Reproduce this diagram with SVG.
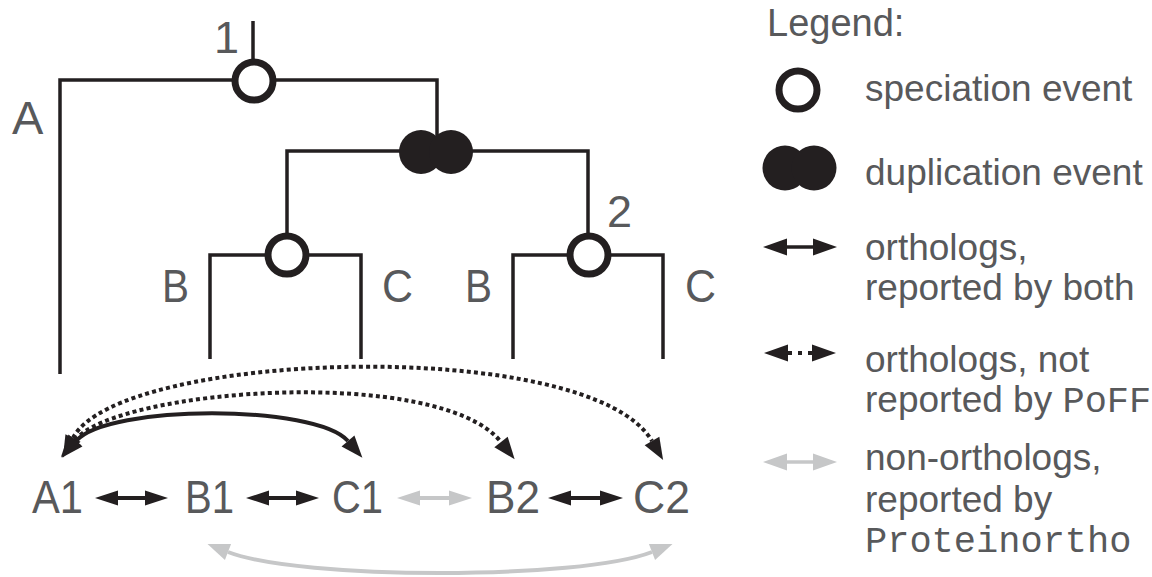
<svg xmlns="http://www.w3.org/2000/svg" width="1152" height="577" viewBox="0 0 1152 577">
  <style>
    .tree { fill: none; stroke: #231f20; stroke-width: 3.5; stroke-linecap: butt; }
    .spec { fill: #ffffff; stroke: #231f20; stroke-width: 7; }
    .dup { fill: #231f20; }
    .lbl { font-family: "Liberation Sans", Arial, sans-serif; fill: #58595b; }
    .big { font-size: 46px; }
    .leg { font-size: 37px; }
    .mono { font-family: "Liberation Mono", "Courier New", monospace; font-size: 37px; fill: #58595b; }
    .solid { fill: none; stroke: #231f20; stroke-width: 4; }
    .dotted { fill: none; stroke: #231f20; stroke-width: 4; stroke-dasharray: 4 3.2; }
    .grey { fill: none; stroke: #c6c7c8; stroke-width: 4; }
  </style>
  <defs>
    <marker id="arcHead" markerUnits="userSpaceOnUse" markerWidth="22" markerHeight="17" refX="0" refY="8.5" orient="auto-start-reverse" overflow="visible">
      <path d="M0,0 L22,8.5 L0,17 z" fill="#231f20"/>
    </marker>
    <marker id="greyArcHead" markerUnits="userSpaceOnUse" markerWidth="22" markerHeight="17" refX="0" refY="8.5" orient="auto-start-reverse" overflow="visible">
      <path d="M0,0 L22,8.5 L0,17 z" fill="#c6c7c8"/>
    </marker>
    <marker id="head" markerUnits="userSpaceOnUse" markerWidth="23" markerHeight="15" refX="0" refY="7.5" orient="auto-start-reverse" overflow="visible">
      <path d="M0,0 L23,7.5 L0,15 z" fill="#231f20"/>
    </marker>
    <marker id="greyHead" markerUnits="userSpaceOnUse" markerWidth="23" markerHeight="15" refX="0" refY="7.5" orient="auto-start-reverse" overflow="visible">
      <path d="M0,0 L23,7.5 L0,15 z" fill="#c6c7c8"/>
    </marker>
    <marker id="legHead" markerUnits="userSpaceOnUse" markerWidth="24" markerHeight="17" refX="0" refY="8.5" orient="auto-start-reverse" overflow="visible">
      <path d="M0,0 L24,8.5 L0,17 z" fill="#231f20"/>
    </marker>
    <marker id="legGreyHead" markerUnits="userSpaceOnUse" markerWidth="24" markerHeight="17" refX="0" refY="8.5" orient="auto-start-reverse" overflow="visible">
      <path d="M0,0 L24,8.5 L0,17 z" fill="#c6c7c8"/>
    </marker>
  </defs>

  <!-- gene tree branches -->
  <g id="tree-branches">
    <path class="tree" d="M253,21 V62"/>
    <path class="tree" d="M60,374 V80 H437 V151"/>
    <path class="tree" d="M287,240 V151 H588 V236"/>
    <path class="tree" d="M210,359 V255 H361 V359"/>
    <path class="tree" d="M513,359 V255 H663 V359"/>
  </g>

  <!-- event nodes -->
  <g id="speciation-1">
    <circle class="spec" cx="254" cy="81" r="19"/>
    <text class="lbl" x="214" y="53" font-size="45">1</text>
  </g>
  <g id="duplication">
    <circle class="dup" cx="421" cy="152" r="22"/>
    <circle class="dup" cx="451" cy="152" r="22"/>
  </g>
  <g id="speciation-left">
    <circle class="spec" cx="287" cy="255" r="19"/>
  </g>
  <g id="speciation-2">
    <circle class="spec" cx="589" cy="255" r="19"/>
    <text class="lbl" x="607" y="227" font-size="45">2</text>
  </g>

  <!-- species labels on the tree -->
  <g id="species-labels">
    <text class="lbl" x="12" y="134" font-size="47">A</text>
    <text class="lbl big" x="162" y="302" textLength="27" lengthAdjust="spacingAndGlyphs">B</text>
    <text class="lbl big" x="382" y="302" textLength="31" lengthAdjust="spacingAndGlyphs">C</text>
    <text class="lbl big" x="465" y="302" textLength="27" lengthAdjust="spacingAndGlyphs">B</text>
    <text class="lbl big" x="685" y="302" textLength="31" lengthAdjust="spacingAndGlyphs">C</text>
  </g>

  <!-- genes -->
  <g id="gene-A1"><text class="lbl big" x="32" y="513" textLength="51" lengthAdjust="spacingAndGlyphs">A1</text></g>
  <g id="gene-B1"><text class="lbl big" x="185" y="513" textLength="49" lengthAdjust="spacingAndGlyphs">B1</text></g>
  <g id="gene-C1"><text class="lbl big" x="332" y="513" textLength="51" lengthAdjust="spacingAndGlyphs">C1</text></g>
  <g id="gene-B2"><text class="lbl big" x="486" y="513" textLength="54" lengthAdjust="spacingAndGlyphs">B2</text></g>
  <g id="gene-C2"><text class="lbl big" x="633" y="513" textLength="57" lengthAdjust="spacingAndGlyphs">C2</text></g>

  <!-- relations between genes -->
  <g id="connectors">
    <path class="solid" d="M118,498 H145" marker-start="url(#head)" marker-end="url(#head)"/>
    <path class="solid" d="M269,498 H296" marker-start="url(#head)" marker-end="url(#head)"/>
    <path class="grey" d="M420,498 H449" marker-start="url(#greyHead)" marker-end="url(#greyHead)"/>
    <path class="solid" d="M571,498 H600" marker-start="url(#head)" marker-end="url(#head)"/>

    <path class="dotted" d="M73,438 C118,350 590,335 652,441" marker-start="url(#arcHead)" marker-end="url(#arcHead)"/>
    <path class="dotted" d="M75,440 C118,388 440,365 501,442" marker-start="url(#arcHead)" marker-end="url(#arcHead)"/>
    <path class="solid" d="M76,441 C108,404 316,404 348,441" marker-start="url(#arcHead)" marker-end="url(#arcHead)"/>

    <path class="grey" d="M228,552 C300,580 580,580 652,552" marker-start="url(#greyArcHead)" marker-end="url(#greyArcHead)"/>
  </g>

  <!-- legend -->
  <g id="legend">
    <text class="lbl" x="767" y="36" font-size="38">Legend:</text>

    <circle class="spec" cx="798" cy="90" r="19"/>
    <text class="lbl leg" x="865" y="101">speciation event</text>

    <circle class="dup" cx="785" cy="168" r="22.5"/>
    <circle class="dup" cx="814" cy="168" r="22.5"/>
    <text class="lbl leg" x="865" y="185">duplication event</text>

    <path class="solid" style="stroke-width:3.5" d="M787,247 H813" marker-start="url(#legHead)" marker-end="url(#legHead)"/>
    <text class="lbl leg" x="865" y="260">orthologs,</text>
    <text class="lbl leg" x="865" y="300">reported by both</text>

    <path class="solid" style="stroke-width:4;stroke-dasharray:4 6" d="M788,353 H812" marker-start="url(#legHead)" marker-end="url(#legHead)"/>
    <text class="lbl leg" x="865" y="372">orthologs, not</text>
    <text class="lbl leg" x="865" y="412">reported by <tspan class="mono">PoFF</tspan></text>

    <path class="grey" style="stroke-width:3.5" d="M787,462 H813" marker-start="url(#legGreyHead)" marker-end="url(#legGreyHead)"/>
    <text class="lbl leg" x="865" y="470">non-orthologs,</text>
    <text class="lbl leg" x="865" y="512">reported by</text>
    <text class="mono" x="865" y="552">Proteinortho</text>
  </g>
</svg>
